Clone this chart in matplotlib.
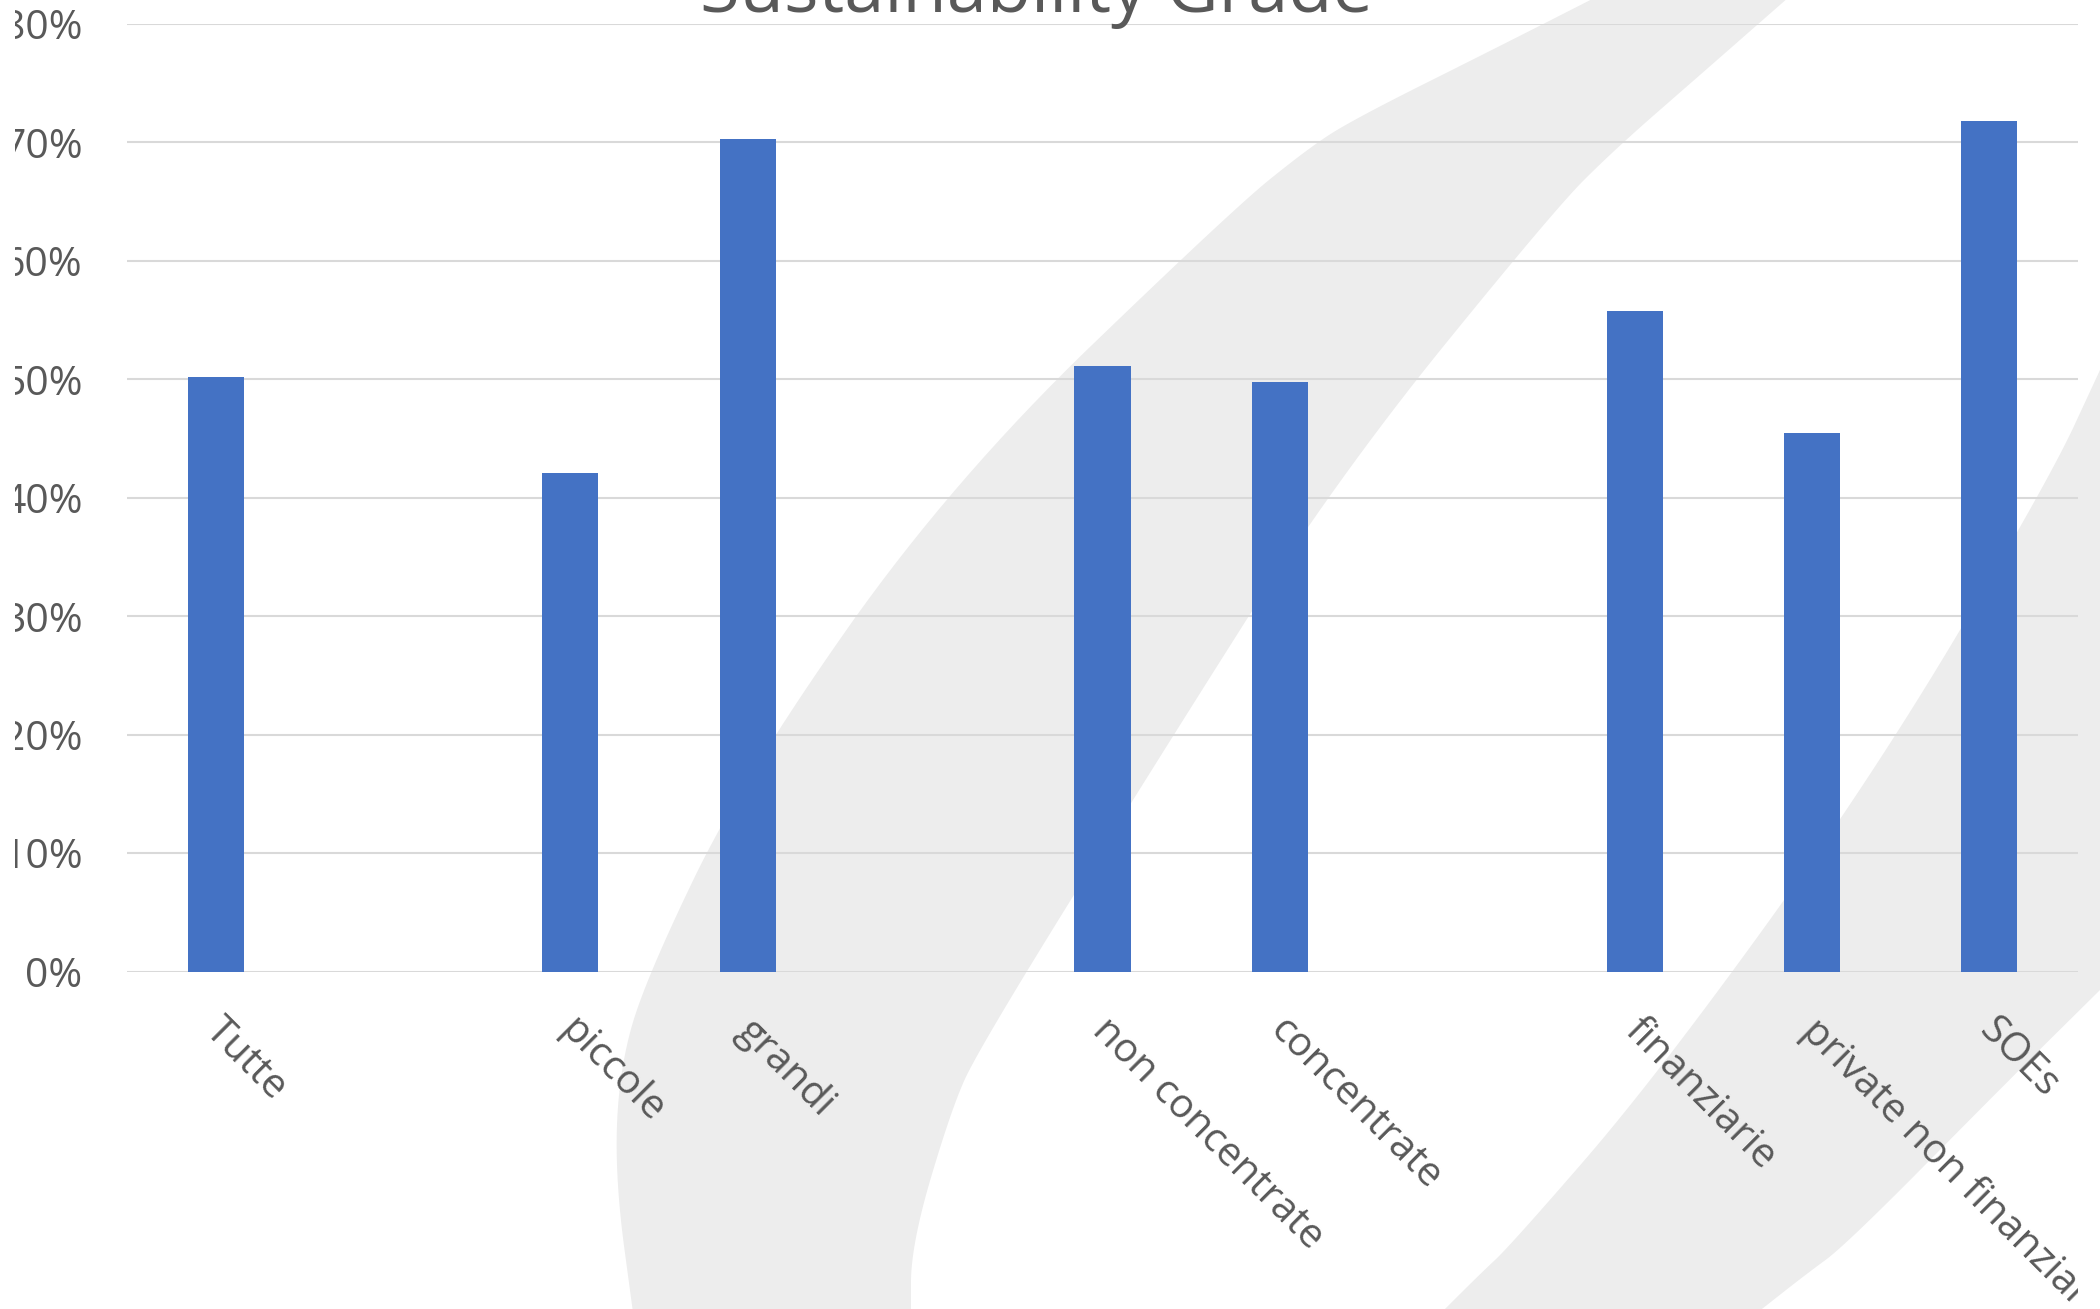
import numpy as np
import matplotlib
matplotlib.use("Agg")
import matplotlib.pyplot as plt
from matplotlib.patches import Polygon
from matplotlib.transforms import ScaledTranslation, Bbox

# dati: quota "Sustainability Grade" per gruppo (gli slot vuoti separano i gruppi)
categorie = ["Tutte", "", "piccole", "grandi", "", "non concentrate", "concentrate",
             "", "finanziarie", "private non finanziarie", "SOEs"]
valori = [0.502, np.nan, 0.421, 0.703, np.nan, 0.511, 0.498,
          np.nan, 0.558, 0.455, 0.718]
yticks = [0, 0.1, 0.2, 0.3, 0.4, 0.5, 0.6, 0.7, 0.8]

plt.rcParams["font.family"] = ["Open Sans", "DejaVu Sans"]
grigio_testo = "#595959"


def chaikin(xs, ys, giri=4):
    # arrotonda la spezzata tagliando gli angoli, estremi fissi
    p = np.column_stack([xs, ys]).astype(float)
    for _ in range(giri):
        q = [p[0]]
        for a, b in zip(p[:-1], p[1:]):
            q.append(0.75 * a + 0.25 * b)
            q.append(0.25 * a + 0.75 * b)
        q.append(p[-1])
        p = np.array(q)
    return p


fig = plt.figure(figsize=(21, 13.09), dpi=100)

# logo in filigrana sullo sfondo (coordinate in pixel)
bg = fig.add_axes([0, 0, 1, 1], zorder=0)
bg.set_xlim(0, 2100)
bg.set_ylim(1309, 0)
bg.axis("off")

# fascia grande
sx_y = [-10, 46, 120, 150, 210, 480, 777, 980, 1071, 1179, 1320]
sx_x = [1610, 1500, 1352, 1306, 1232, 952, 743, 645, 619, 615, 634]
dx_y = [-10, 75, 150, 210, 480, 780, 1050, 1110, 1245, 1320]
dx_x = [1797, 1700, 1614, 1554, 1335, 1145, 978, 951, 911, 911]
bordo_sx = chaikin(sx_x, sx_y)
bordo_dx = chaikin(dx_x, dx_y)[::-1]
bg.add_patch(Polygon(np.vstack([bordo_sx, bordo_dx]), closed=True,
                     facecolor="#EDEDED", edgecolor="none"))

# fascia a destra
sx2_y = [370, 480, 780, 1080, 1245, 1275, 1320]
sx2_x = [2100, 2049, 1871, 1654, 1511, 1479, 1434]
dx2_y = [990, 1080, 1245, 1275, 1320]
dx2_x = [2100, 2009, 1846, 1805, 1748]
bordo_sx2 = chaikin(sx2_x, sx2_y)
bordo_dx2 = chaikin(dx2_x, dx2_y)[::-1]
bg.add_patch(Polygon(np.vstack([bordo_sx2, bordo_dx2, [[2110, 990], [2110, 370]]]),
                     closed=True, facecolor="#EDEDED", edgecolor="none"))

ax = fig.add_axes([127 / 2100, 1 - 971.7 / 1309, (2078 - 127) / 2100, (971.7 - 24) / 1309], zorder=1)
ax.patch.set_alpha(0)

x = np.arange(len(categorie))
ax.bar(x, valori, width=0.316, color="#4472C4", zorder=3)

ax.set_xlim(-0.5, len(categorie) - 0.5)
ax.set_ylim(0, 0.8)
ax.set_yticks(yticks)
ax.set_yticklabels([f"{int(round(v * 100))}%" for v in yticks])
ax.yaxis.grid(True, color="#D9D9D9", linewidth=1.5, zorder=0)
ax.set_axisbelow(True)
for s in ax.spines.values():
    s.set_visible(False)

ax.set_xticks(x)
ax.set_xticklabels(categorie, rotation=-45, ha="left", va="top", rotation_mode="anchor")
ax.tick_params(axis="x", length=0, pad=28, labelsize=29, labelcolor=grigio_testo)
ax.tick_params(axis="y", length=0, pad=32, labelsize=29.5, labelcolor=grigio_testo)
sposta = ScaledTranslation(0.1, 0, fig.dpi_scale_trans)
for lab in ax.get_xticklabels():
    lab.set_transform(lab.get_transform() + sposta)

# le etichette restano dentro l'area del grafico (in pixel)
area = Bbox.from_extents(15, -10, 2078, 1320)
for lab in ax.get_xticklabels() + ax.get_yticklabels():
    lab.set_clip_on(True)
    lab.set_clip_box(area)

fig.text(1036 / 2100, 1 - 12 / 1309, "Sustainability Grade", ha="center", va="baseline",
         fontsize=52, color=grigio_testo)

fig.savefig("out.png", dpi=100)
